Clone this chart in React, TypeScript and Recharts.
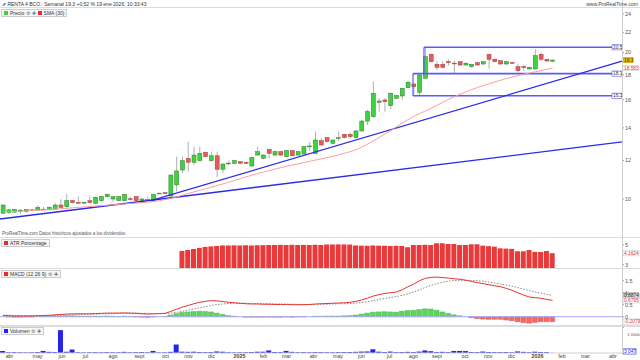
import React from 'react';
import { ComposedChart, Bar, Line, XAxis, YAxis, ReferenceLine, ReferenceDot, Cell } from 'recharts';

// weekly candles, first week starting 2024-03-25
const opens = [
  9.35, 9.38, 9.40, 9.44, 9.43, 9.49, 9.49, 9.53, 9.50, 9.53, 9.72, 9.64, 9.92, 9.84, 9.83, 9.92,
  9.80, 9.92, 10.11, 10.00, 9.92, 9.92, 10.01, 10.11, 9.83, 9.96, 9.92, 10.26, 10.30, 10.14, 10.69, 11.47,
  12.12, 11.90, 11.99, 12.47, 11.99, 12.27, 11.51, 11.84, 11.84, 11.93, 11.90, 11.69, 12.31, 12.12, 12.65, 12.31,
  12.51, 12.22, 12.57, 12.31, 12.37, 12.83, 12.41, 13.18, 13.37, 13.02, 13.36, 13.58, 13.58, 13.37, 13.80, 14.46,
  14.76, 15.80, 15.98, 15.55, 16.11, 16.28, 16.93, 17.23, 16.57, 17.71, 19.83, 18.92, 18.92, 19.15, 19.00, 19.15,
  18.85, 18.70, 19.06, 18.94, 19.83, 19.37, 19.24, 18.94, 19.08, 18.70, 18.70, 18.50, 18.50, 19.83, 19.37, 19.20,
];
const highs = [
  9.74, 9.55, 9.54, 9.52, 9.53, 9.53, 9.70, 9.64, 9.65, 9.80, 9.99, 10.24, 9.95, 10.11, 9.88, 10.16,
  10.12, 10.15, 10.26, 10.14, 10.14, 10.25, 10.11, 10.14, 10.03, 10.11, 10.25, 10.30, 10.32, 11.22, 12.22, 12.22,
  13.12, 12.81, 12.81, 12.52, 12.51, 12.51, 11.84, 11.99, 12.02, 11.96, 11.93, 12.21, 12.81, 12.35, 12.68, 12.55,
  12.55, 12.60, 12.60, 12.55, 12.85, 13.10, 13.75, 13.35, 13.40, 13.25, 13.75, 13.62, 13.68, 13.84, 14.55, 15.25,
  17.42, 16.11, 16.11, 16.57, 16.36, 16.93, 17.50, 17.30, 18.05, 20.46, 19.90, 19.20, 19.20, 19.35, 19.24, 19.20,
  19.10, 18.96, 19.10, 19.20, 19.88, 19.45, 19.28, 19.20, 19.12, 18.96, 18.85, 18.70, 20.31, 20.00, 19.40, 19.35,
];
const lows = [
  9.31, 9.33, 9.36, 9.33, 9.38, 9.46, 9.47, 9.50, 9.48, 9.51, 9.58, 9.52, 9.80, 9.80, 9.80, 9.81,
  9.78, 9.90, 10.08, 9.87, 9.90, 9.90, 9.92, 9.89, 9.80, 9.92, 9.90, 10.24, 10.25, 10.12, 10.35, 11.31,
  11.38, 11.75, 11.95, 12.18, 11.93, 11.08, 11.31, 11.75, 11.80, 11.80, 11.80, 11.66, 12.28, 12.08, 12.12, 12.28,
  12.28, 12.18, 12.24, 12.28, 12.33, 12.55, 12.38, 12.88, 13.08, 12.98, 13.15, 13.33, 13.30, 13.33, 13.75, 14.19,
  14.70, 15.12, 15.12, 15.30, 16.05, 16.00, 16.89, 16.36, 16.36, 17.65, 19.10, 18.40, 18.55, 18.80, 18.13, 18.80,
  18.80, 18.60, 18.80, 18.90, 18.53, 19.10, 18.90, 18.90, 18.97, 18.20, 18.30, 18.45, 18.45, 19.20, 19.18, 19.10,
];
const closes = [
  9.72, 9.50, 9.52, 9.49, 9.51, 9.50, 9.61, 9.52, 9.62, 9.72, 9.61, 9.92, 9.83, 9.83, 9.84, 9.83,
  10.08, 10.11, 10.22, 10.11, 10.11, 10.22, 10.00, 9.92, 10.00, 9.97, 10.22, 10.28, 10.27, 11.20, 11.42, 11.99,
  11.90, 12.31, 12.41, 12.22, 12.27, 11.51, 11.80, 11.85, 11.99, 11.84, 11.84, 12.18, 12.51, 12.31, 12.41, 12.51,
  12.31, 12.57, 12.27, 12.51, 12.81, 12.85, 13.22, 12.91, 13.12, 13.22, 13.38, 13.37, 13.43, 13.80, 14.46, 15.12,
  16.49, 15.90, 15.85, 16.49, 16.31, 16.89, 17.37, 17.01, 17.98, 19.61, 19.15, 18.65, 18.65, 19.06, 19.02, 18.85,
  19.01, 18.92, 18.85, 19.15, 19.37, 19.15, 18.94, 19.15, 19.01, 18.35, 18.61, 18.65, 19.70, 19.37, 19.21, 19.30,
];
const sma30 = [
  9.40, 9.42, 9.43, 9.44, 9.45, 9.47, 9.48, 9.50, 9.51, 9.53, 9.55, 9.57, 9.59, 9.61, 9.63, 9.65,
  9.67, 9.69, 9.71, 9.73, 9.75, 9.77, 9.79, 9.81, 9.83, 9.85, 9.88, 9.92, 9.97, 10.03, 10.10, 10.18,
  10.26, 10.34, 10.42, 10.50, 10.58, 10.66, 10.74, 10.82, 10.92, 11.01, 11.10, 11.19, 11.28, 11.36, 11.44, 11.52,
  11.60, 11.67, 11.74, 11.81, 11.88, 11.95, 12.02, 12.09, 12.16, 12.24, 12.32, 12.41, 12.51, 12.62, 12.78, 12.96,
  13.16, 13.38, 13.60, 13.82, 14.08, 14.32, 14.55, 14.78, 14.98, 15.16, 15.36, 15.58, 15.80, 16.02, 16.22, 16.42,
  16.60, 16.78, 16.94, 17.10, 17.25, 17.40, 17.54, 17.68, 17.80, 17.92, 18.04, 18.15, 18.26, 18.36, 18.47, 18.58,
];
const atrPct = [
  null, null, null, null, null, null, null, null, null, null, null, null, null, null, null, null,
  null, null, null, null, null, null, null, null, null, null, null, null, null, null, null, 4.39,
  4.49, 4.59, 4.70, 4.80, 4.85, 4.90, 4.95, 4.95, 4.96, 4.95, 4.97, 4.95, 4.96, 4.98, 5.00, 5.00,
  5.01, 5.00, 5.02, 5.00, 5.01, 5.00, 5.02, 5.00, 5.05, 5.05, 5.06, 5.05, 5.04, 4.95, 4.93, 4.92,
  4.95, 4.93, 4.92, 4.90, 4.92, 4.90, 4.77, 5.00, 5.00, 5.02, 5.00, 5.17, 5.17, 5.10, 5.10, 5.00,
  5.00, 5.07, 5.07, 4.93, 4.88, 4.83, 4.66, 4.63, 4.60, 4.36, 4.36, 4.49, 4.29, 4.29, 4.39, 4.16,
];
const macdLine = [
  0.05, 0.04, 0.03, 0.03, 0.03, 0.03, 0.04, 0.05, 0.06, 0.08, 0.09, 0.11, 0.12, 0.12, 0.12, 0.12,
  0.13, 0.14, 0.15, 0.15, 0.15, 0.16, 0.15, 0.14, 0.12, 0.11, 0.12, 0.13, 0.14, 0.22, 0.31, 0.40,
  0.47, 0.54, 0.60, 0.64, 0.67, 0.66, 0.63, 0.60, 0.58, 0.56, 0.54, 0.53, 0.53, 0.52, 0.52, 0.51,
  0.51, 0.51, 0.50, 0.50, 0.50, 0.51, 0.53, 0.54, 0.55, 0.56, 0.57, 0.58, 0.60, 0.64, 0.70, 0.77,
  0.86, 0.92, 0.97, 1.00, 1.03, 1.12, 1.25, 1.36, 1.50, 1.60, 1.64, 1.65, 1.63, 1.61, 1.58, 1.56,
  1.52, 1.47, 1.42, 1.38, 1.33, 1.29, 1.25, 1.18, 1.10, 1.00, 0.90, 0.82, 0.79, 0.77, 0.72, 0.68,
];
const macdSignal = [
  0.06, 0.06, 0.05, 0.05, 0.04, 0.04, 0.04, 0.04, 0.05, 0.05, 0.06, 0.07, 0.08, 0.09, 0.10, 0.10,
  0.11, 0.12, 0.12, 0.13, 0.14, 0.14, 0.14, 0.15, 0.14, 0.14, 0.13, 0.13, 0.13, 0.15, 0.18, 0.22,
  0.27, 0.32, 0.37, 0.42, 0.47, 0.51, 0.53, 0.55, 0.56, 0.56, 0.56, 0.55, 0.55, 0.54, 0.54, 0.53,
  0.53, 0.52, 0.52, 0.51, 0.51, 0.51, 0.51, 0.52, 0.52, 0.53, 0.54, 0.54, 0.55, 0.57, 0.59, 0.62,
  0.67, 0.72, 0.76, 0.80, 0.84, 0.89, 0.95, 1.03, 1.12, 1.22, 1.31, 1.38, 1.44, 1.48, 1.51, 1.52,
  1.52, 1.51, 1.50, 1.48, 1.44, 1.40, 1.36, 1.32, 1.27, 1.21, 1.15, 1.09, 1.03, 0.98, 0.93, 0.89,
];
const macdHist = [
  0.00, -0.01, -0.02, -0.02, -0.01, -0.01, 0.00, 0.01, 0.01, 0.03, 0.03, 0.04, 0.04, 0.03, 0.02, 0.02,
  0.02, 0.02, 0.03, 0.02, 0.01, 0.02, 0.01, -0.01, -0.02, -0.03, -0.01, 0.00, 0.01, 0.07, 0.13, 0.18,
  0.20, 0.22, 0.23, 0.22, 0.20, 0.15, 0.10, 0.05, 0.02, 0.00, -0.02, -0.02, -0.02, -0.02, -0.02, -0.02,
  -0.02, -0.01, -0.02, -0.01, -0.01, 0.00, 0.02, 0.02, 0.03, 0.03, 0.03, 0.04, 0.05, 0.07, 0.11, 0.15,
  0.19, 0.20, 0.21, 0.20, 0.19, 0.23, 0.26, 0.27, 0.30, 0.33, 0.32, 0.27, 0.20, 0.14, 0.08, 0.04,
  0.00, -0.04, -0.08, -0.10, -0.11, -0.11, -0.11, -0.14, -0.17, -0.21, -0.25, -0.27, -0.24, -0.21, -0.21, -0.21,
];
const volumes = [
  80000, 30000, 35000, 30000, 25000, 30000, 40000, 80000, 45000, 40000, 890000, 50000, 135000, 30000, 25000, 30000,
  35000, 30000, 35000, 30000, 30000, 45000, 30000, 35000, 40000, 30000, 80000, 25000, 30000, 45000, 330000, 50000,
  45000, 50000, 40000, 35000, 40000, 60000, 50000, 30000, 25000, 30000, 30000, 40000, 45000, 50000, 100000, 40000,
  35000, 80000, 45000, 30000, 35000, 30000, 40000, 35000, 30000, 30000, 35000, 40000, 40000, 45000, 55000, 60000,
  145000, 50000, 40000, 55000, 35000, 40000, 45000, 40000, 55000, 100000, 70000, 40000, 45000, 35000, 80000, 80000,
  75000, 40000, 35000, 55000, 40000, 35000, 35000, 40000, 30000, 60000, 45000, 30000, 50000, 40000, 35000, 3047,
];
const monthTicks = [
  1.12, 5.96, 10.2, 14.26, 19.01, 23.59, 28.09, 32.06, 36.04, 40.88, 45.03, 49.0, 53.67,
  57.91, 61.97, 66.81, 70.96, 75.02, 79.86, 83.84, 87.9, 92.39, 96.63, 100.69, 105.45,
];
const monthLabels = [
  'abr', 'may', 'jun', 'jul', 'ago', 'sept', 'oct', 'nov', 'dic', '2025', 'feb', 'mar', 'abr',
  'may', 'jun', 'jul', 'ago', 'sept', 'oct', 'nov', 'dic', '2026', 'feb', 'mar', 'abr',
];
const priceTicks = [10, 12, 14, 16, 18, 20, 22, 24];

const rows = opens.map((o, i) => ({
  i,
  open: o,
  high: highs[i],
  low: lows[i],
  close: closes[i],
  range: [lows[i], highs[i]],
  sma: sma30[i],
  atr: atrPct[i],
  macd: macdLine[i],
  signal: macdSignal[i],
  hist: macdHist[i],
  vol: volumes[i],
}));

const X_DOMAIN: [number, number] = [-0.52, 107];
const W = 640;
const AXIS_W = 18;
const FONT = '"Liberation Sans", Arial, sans-serif';
const tickStyle = { fontSize: 5.5, fill: '#555', fontFamily: FONT };

const Candle = (props: any) => {
  const { x, y, width, height, payload } = props;
  if (!payload || y == null || height == null) return null;
  const top0 = Math.min(y, y + height);
  const h = Math.abs(height);
  const lh = Math.log(payload.high);
  const ll = Math.log(payload.low);
  const pos = (v: number) => top0 + (h * (lh - Math.log(v))) / (lh - ll);
  const up = payload.close >= payload.open;
  const bTop = pos(Math.max(payload.open, payload.close));
  const bBot = pos(Math.min(payload.open, payload.close));
  const cx = x + width / 2;
  return (
    <g>
      <line x1={cx} x2={cx} y1={top0} y2={top0 + h} stroke="#9a9a9a" strokeWidth={0.8} />
      <rect
        x={x}
        y={bTop}
        width={width}
        height={Math.max(0.8, bBot - bTop)}
        fill={up ? '#3fd23f' : '#e35d5d'}
        stroke={up ? '#2b7d2b' : '#a83a3a'}
        strokeWidth={0.5}
      />
    </g>
  );
};

// small value tag next to the price axis
const Tag = ({ cx, cy, text, side = 'right', fill = '#fff', stroke = '#e03030', color = '#e03030', w = 16 }: any) => {
  if (cx == null || cy == null) return null;
  const x = side === 'right' ? cx + 1 : cx - w;
  return (
    <g>
      <rect x={x} y={cy - 2.6} width={w} height={5.2} fill={fill} stroke={stroke} strokeWidth={0.6} />
      <text x={x + 1} y={cy + 1.7} fontSize={4.8} fill={color} fontFamily={FONT}>
        {text}
      </text>
    </g>
  );
};

const PriceChart = () => (
  <ComposedChart width={W} height={229} data={rows} margin={{ top: 0, right: 0, bottom: 0, left: 0 }}>
    <XAxis type="number" dataKey="i" domain={X_DOMAIN} hide allowDataOverflow />
    <YAxis
      orientation="right"
      scale="log"
      domain={[8.354, 24.69]}
      allowDataOverflow
      ticks={priceTicks}
      width={AXIS_W}
      axisLine={false}
      tickSize={2}
      tickMargin={1}
      tickLine={{ stroke: '#999' }}
      tick={tickStyle}
    />
    {/* channel boxes */}
    <ReferenceLine segment={[{ x: 72.77, y: 20.5 }, { x: 107, y: 20.5 }]} stroke="#5b5bf2" strokeWidth={1.6} ifOverflow="visible" />
    <ReferenceLine segment={[{ x: 72.77, y: 20.5 }, { x: 72.77, y: 18.1 }]} stroke="#5b5bf2" strokeWidth={1.2} ifOverflow="visible" />
    <ReferenceLine segment={[{ x: 70.87, y: 18.1 }, { x: 107, y: 18.1 }]} stroke="#5b5bf2" strokeWidth={1.6} ifOverflow="visible" />
    <ReferenceLine segment={[{ x: 70.87, y: 18.1 }, { x: 70.87, y: 16.3 }]} stroke="#5b5bf2" strokeWidth={1.2} ifOverflow="visible" />
    <ReferenceLine segment={[{ x: 70.87, y: 16.3 }, { x: 107, y: 16.3 }]} stroke="#5b5bf2" strokeWidth={1.6} ifOverflow="visible" />
    {/* trend lines */}
    <ReferenceLine segment={[{ x: -0.52, y: 9.097 }, { x: 107, y: 13.1 }]} stroke="#2b2be8" strokeWidth={1.3} ifOverflow="visible" />
    <ReferenceLine segment={[{ x: 25.41, y: 9.906 }, { x: 107, y: 19.2 }]} stroke="#2b2be8" strokeWidth={1.3} ifOverflow="visible" />
    <Line dataKey="sma" stroke="#ff9d9d" strokeWidth={1} dot={false} isAnimationActive={false} />
    <Bar dataKey="range" barSize={4} isAnimationActive={false} shape={(p: any) => <Candle {...p} />} />
    <ReferenceDot x={107} y={20.5} r={0} ifOverflow="visible" shape={(p: any) => <Tag {...p} text="20.5" side="left" stroke="#5b5bf2" color="#333" w={10} />} />
    <ReferenceDot x={107} y={18.1} r={0} ifOverflow="visible" shape={(p: any) => <Tag {...p} text="18.1" side="left" stroke="#5b5bf2" color="#333" w={10} />} />
    <ReferenceDot x={107} y={16.3} r={0} ifOverflow="visible" shape={(p: any) => <Tag {...p} text="16.3" side="left" stroke="#5b5bf2" color="#333" w={10} />} />
    <ReferenceDot x={107} y={19.3} r={0} ifOverflow="visible" shape={(p: any) => <Tag {...p} text="19.3" fill="#e8c000" stroke="#c9a600" color="#222" w={10} />} />
    <ReferenceDot x={107} y={18.583} r={0} ifOverflow="visible" shape={(p: any) => <Tag {...p} text="18.583" w={16} />} />
  </ComposedChart>
);

const AtrChart = () => (
  <ComposedChart width={W} height={31} data={rows} margin={{ top: 0, right: 0, bottom: 0, left: 0 }}>
    <XAxis type="number" dataKey="i" domain={X_DOMAIN} hide allowDataOverflow />
    <YAxis
      orientation="right"
      domain={[2.66, 5.81]}
      allowDataOverflow
      ticks={[3, 5]}
      width={AXIS_W}
      axisLine={false}
      tickSize={2}
      tickMargin={1}
      tickLine={{ stroke: '#999' }}
      tick={tickStyle}
    />
    <Bar dataKey="atr" barSize={5} fill="#e8393b" isAnimationActive={false} />
    <ReferenceDot x={107} y={4.16} r={0} ifOverflow="visible" shape={(p: any) => <Tag {...p} text="4.1624" />} />
  </ComposedChart>
);

const MacdChart = () => (
  <ComposedChart width={W} height={57} data={rows} margin={{ top: 0, right: 0, bottom: 0, left: 0 }}>
    <XAxis type="number" dataKey="i" domain={X_DOMAIN} hide allowDataOverflow />
    <YAxis
      orientation="right"
      domain={[-0.346, 2.03]}
      allowDataOverflow
      ticks={[0, 0.5, 1, 1.5]}
      width={AXIS_W}
      axisLine={false}
      tickSize={2}
      tickMargin={1}
      tickLine={{ stroke: '#999' }}
      tick={tickStyle}
    />
    <ReferenceLine y={0} stroke="#a9a9ee" strokeWidth={1} />
    <Bar dataKey="hist" barSize={5} isAnimationActive={false}>
      {rows.map((r) => (
        <Cell key={r.i} fill={r.hist >= 0 ? '#5cd65c' : '#ef6b6b'} stroke={r.hist >= 0 ? '#3fae3f' : '#d44c4c'} strokeWidth={0.4} />
      ))}
    </Bar>
    <Line dataKey="signal" stroke="#7a7a7a" strokeWidth={0.9} strokeDasharray="1.5 1.5" dot={false} isAnimationActive={false} />
    <Line dataKey="macd" stroke="#e63232" strokeWidth={1} dot={false} isAnimationActive={false} />
    <ReferenceDot x={107} y={0.8874} r={0} ifOverflow="visible" shape={(p: any) => <Tag {...p} text="0.8874" fill="#ddd" stroke="#888" color="#222" />} />
    <ReferenceDot x={107} y={0.68} r={0} ifOverflow="visible" shape={(p: any) => <Tag {...p} text="0.6795" />} />
    <ReferenceDot x={107} y={-0.2} r={0} ifOverflow="visible" shape={(p: any) => <Tag {...p} text="-0.2079" w={17} />} />
  </ComposedChart>
);

const fmtVol = (v: number) => (v >= 1000000 ? '1 000k' : '500 000');

const VolumeChart = () => (
  <ComposedChart width={W} height={35} data={rows} margin={{ top: 0, right: 0, bottom: 0, left: 0 }}>
    <XAxis
      type="number"
      dataKey="i"
      domain={X_DOMAIN}
      allowDataOverflow
      ticks={monthTicks}
      interval={0}
      height={7}
      axisLine={{ stroke: '#d0d0d0' }}
      tickLine={false}
      tickMargin={0}
      tick={(p: any) => {
        const idx = monthTicks.indexOf(p.payload.value);
        const lab = monthLabels[idx] ?? '';
        const bold = lab === '2025' || lab === '2026';
        return (
          <text x={p.x} y={32.6} textAnchor="middle" fontSize={5.3} fill="#444" fontWeight={bold ? 'bold' : 'normal'} fontFamily={FONT}>
            {lab}
          </text>
        );
      }}
    />
    <YAxis
      orientation="right"
      domain={[0, 1090000]}
      allowDataOverflow
      ticks={[500000, 1000000]}
      width={AXIS_W}
      axisLine={false}
      tickSize={2}
      tickLine={{ stroke: '#999' }}
      tick={(p: any) => (
        <text x={p.x + 1} y={Math.max(p.y, 3) + 1.5} fontSize={4.3} fill="#555" fontFamily={FONT}>
          {fmtVol(p.payload.value)}
        </text>
      )}
    />
    <Bar dataKey="vol" barSize={5} fill="#2323ea" isAnimationActive={false} />
    <ReferenceDot x={107} y={60000} r={0} ifOverflow="visible" shape={(p: any) => <Tag {...p} text="3 047" stroke="#2323ea" color="#2323ea" w={13} />} />
  </ComposedChart>
);

const Legend = ({ top, children }: any) => (
  <div
    style={{
      position: 'absolute',
      left: 1,
      top,
      height: 6,
      display: 'flex',
      alignItems: 'center',
      gap: 2,
      padding: '0 2px',
      fontSize: 5,
      lineHeight: '6px',
      color: '#333',
      background: 'rgba(245,245,245,0.9)',
      border: '0.5px solid #ccc',
    }}
  >
    {children}
  </div>
);

const Sq = ({ c }: { c: string }) => <span style={{ display: 'inline-block', width: 4, height: 4, background: c }} />;

const hr = (top: number, h = 1, c = '#dcdcdc') => (
  <div style={{ position: 'absolute', left: 0, top, width: W, height: h, background: c }} />
);

export default function App() {
  return (
    <div
      style={{
        position: 'fixed',
        left: 0,
        top: 0,
        width: W,
        height: 360,
        background: '#fff',
        overflow: 'hidden',
        fontFamily: FONT,
      }}
    >
      <div style={{ position: 'absolute', left: 0, top: 8 }}>
        <PriceChart />
      </div>
      <div style={{ position: 'absolute', left: 0, top: 237 }}>
        <AtrChart />
      </div>
      <div style={{ position: 'absolute', left: 0, top: 268 }}>
        <MacdChart />
      </div>
      <div style={{ position: 'absolute', left: 0, top: 325 }}>
        <VolumeChart />
      </div>

      {hr(7)}
      {hr(236.5, 1.5)}
      {hr(267.5, 1.5)}
      {hr(325, 1.5)}
      <div style={{ position: 'absolute', left: 622, top: 0, width: 1, height: 353, background: '#cfcfcf' }} />

      {/* title bar */}
      <div style={{ position: 'absolute', left: 2, top: 1, fontSize: 5, lineHeight: '6px', color: '#333', whiteSpace: 'nowrap' }}>
        <span style={{ color: '#4a6fd0' }}>⬈ </span>RENTA 4 BCO.: Semanal 19,3 +0,52 % 19 ene 2026, 10:33:43
      </div>
      <div style={{ position: 'absolute', right: 2, top: 1, fontSize: 5, lineHeight: '6px', color: '#444' }}>www.ProRealTime.com</div>

      <Legend top={9}>
        <Sq c="#3fd23f" />
        <span>Precio</span>
        <span style={{ color: '#777' }}>⚙ ✚</span>
        <Sq c="#ee2a2a" />
        <span>SMA (30)</span>
      </Legend>

      <div style={{ position: 'absolute', left: 2, top: 231, fontSize: 4.5, lineHeight: '5px', color: '#555', whiteSpace: 'nowrap' }}>
        ProRealTime.com Datos históricos ajustados a los dividendos
      </div>

      <Legend top={239}>
        <Sq c="#ee2a2a" />
        <span>ATR Porcentage</span>
      </Legend>
      <Legend top={270}>
        <Sq c="#ee2a2a" />
        <span>MACD (12 26 9)</span>
        <span style={{ color: '#777' }}>⚙ ✚</span>
      </Legend>
      <Legend top={327}>
        <Sq c="#2323ea" />
        <span>Volumen</span>
        <span style={{ color: '#777' }}>⚙ ✚</span>
      </Legend>
    </div>
  );
}
